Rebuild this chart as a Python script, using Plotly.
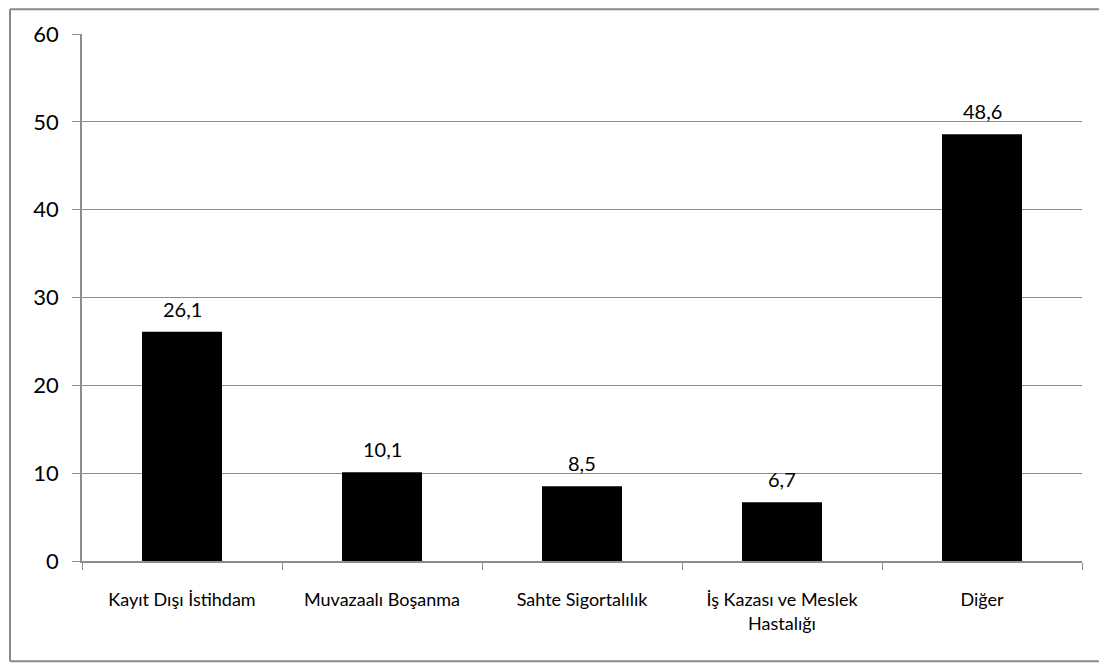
import plotly.graph_objects as go

# values
categories = [
    "Kayıt Dışı İstihdam",
    "Muvazaalı Boşanma",
    "Sahte Sigortalılık",
    "İş Kazası ve Meslek<br>Hastalığı",
    "Diğer",
]
values = [26.1, 10.1, 8.5, 6.7, 48.6]
y_ticks = [0, 10, 20, 30, 40, 50, 60]

GRID = "#8c8c8c"
FRAME = "#8a8a8a"
FONT = "Lato, Open Sans, sans-serif"

fig = go.Figure()
fig.add_trace(go.Bar(
    x=categories,
    y=values,
    marker=dict(color="black", line=dict(width=0)),
    cliponaxis=False,
))

# data labels sit a little above each bar
for cat, val in zip(categories, values):
    fig.add_annotation(
        x=cat, y=val, text=f"{val:.1f}".replace(".", ","),
        showarrow=False, yanchor="bottom", yshift=9,
        font=dict(size=20, color="black", family=FONT),
    )

# outer chart frame: top, left and bottom edges (right edge is cropped off)
frame = dict(type="line", xref="paper", yref="paper",
             line=dict(color=FRAME, width=2), layer="below")
fig.add_shape(x0=-0.072, x1=1.2, y0=1.047, y1=1.047, **frame)
fig.add_shape(x0=-0.072, x1=-0.072, y0=-0.19, y1=1.047, **frame)
fig.add_shape(x0=-0.072, x1=1.2, y0=-0.19, y1=-0.19, **frame)

fig.update_layout(
    width=1099, height=655,
    margin=dict(l=74, r=25, t=26, b=102),
    paper_bgcolor="white",
    plot_bgcolor="white",
    showlegend=False,
    bargap=0.6,
    font=dict(family=FONT, color="black"),
)
fig.update_xaxes(
    showline=True, linecolor=GRID, linewidth=1.5,
    ticks="outside", tickson="boundaries", ticklen=7, tickcolor=GRID,
    tickfont=dict(size=18, family=FONT),
    ticklabelstandoff=22,
    showgrid=False,
)
fig.update_yaxes(
    range=[0, 60], tickvals=y_ticks,
    showline=True, linecolor=GRID, linewidth=1.5,
    ticks="outside", ticklen=8, tickcolor=GRID,
    ticklabelstandoff=9,
    showgrid=True, gridcolor=GRID, gridwidth=1,
    tickfont=dict(size=22, family=FONT),
    zeroline=False,
)

fig.write_html("out.html")
